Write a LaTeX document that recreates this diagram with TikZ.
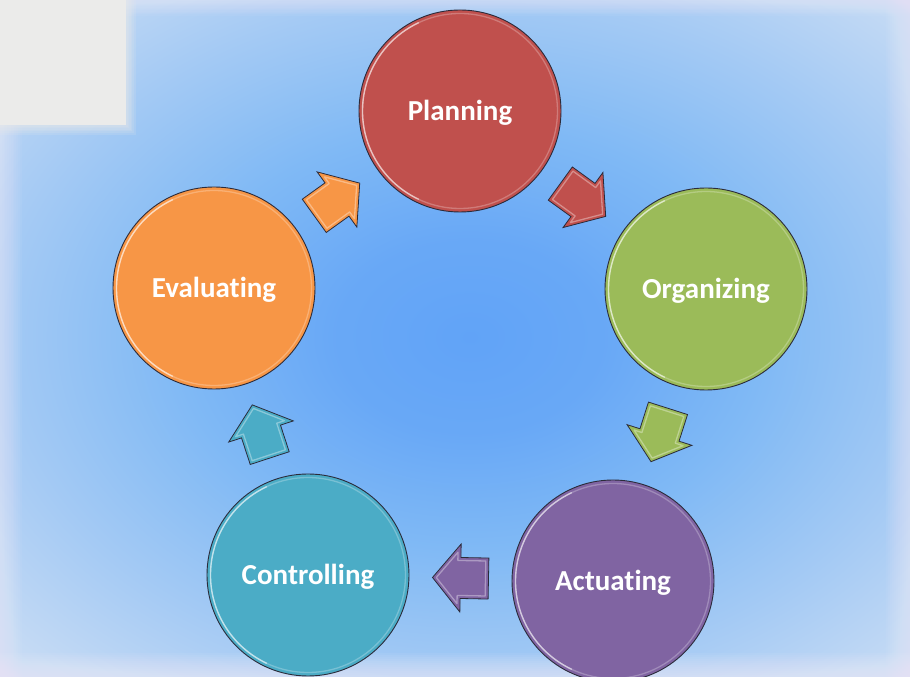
\documentclass[tikz,border=0pt]{standalone}
\usepackage{fontspec}
\setmainfont{Carlito}[Ligatures=NoCommon]
\usetikzlibrary{calc}

\definecolor{planred}{HTML}{C0504D}
\definecolor{orggreen}{HTML}{9BBB59}
\definecolor{actpurple}{HTML}{8064A2}
\definecolor{ctrlteal}{HTML}{4BACC6}
\definecolor{evalorange}{HTML}{F79646}
\definecolor{cornergray}{HTML}{EBEBEA}
\definecolor{edgedark}{HTML}{2B2B3A}
\definecolor{edgelight}{HTML}{F0EEF8}

\pgfdeclareradialshading{bgshade}{\pgfpoint{0bp}{0bp}}{%
 rgb(0bp)=(0.38,0.64,0.97);
 rgb(7bp)=(0.41,0.66,0.965);
 rgb(15bp)=(0.50,0.725,0.96);
 rgb(24bp)=(0.64,0.79,0.955);
 rgb(32bp)=(0.77,0.855,0.955);
 rgb(40bp)=(0.86,0.89,0.96);
 rgb(72bp)=(0.92,0.91,0.965)}

\tikzset{
  stage/.style={circle, minimum size=202pt, inner sep=0pt, fill=#1,
    draw=edgedark, line width=0.9pt, text=white,
    font=\fontsize{29}{34}\selectfont\bfseries, text height=18.7pt, text depth=0pt},
  pics/blockarrow/.style={code={
    \fill[#1] (-28,-20.5) -- (0,-20.5) -- (0,-34) -- (28,0) -- (0,34) -- (0,20.5) -- (-28,20.5) -- cycle;
    \draw[white, opacity=0.35, line width=1.3pt, line join=round]
      (-25,-17.5) -- (3,-17.5) -- (3,-25.7) -- (24.2,0) -- (3,25.7) -- (3,17.5) -- (-25,17.5) -- cycle;
    \draw[edgedark, line width=0.8pt, line join=miter]
      (-28,-20.5) -- (0,-20.5) -- (0,-34) -- (28,0) -- (0,34) -- (0,20.5) -- (-28,20.5) -- cycle;
  }}
}

\begin{document}
\begin{tikzpicture}[x=1pt,y=1pt]
\useasboundingbox (0,0) rectangle (910,677);
\begin{scope}
  \clip (0,0) rectangle (910,677);
  \shade[shading=bgshade] (-15,-10) rectangle (955,690);
  \foreach \i in {1,...,12}{
    \fill[edgelight, opacity=0.07] (0,0) rectangle (910,2*\i);
    \fill[edgelight, opacity=0.06] (0,677-1.3*\i) rectangle (910,677);
    \fill[edgelight, opacity=0.06] (910-2*\i,0) rectangle (910,677);
    \fill[edgelight, opacity=0.06] (0,0) rectangle (1.8*\i,677);
  }
  \fill[cornergray] (0,552) rectangle (126,677);
  \foreach \i in {1,...,6}
    \fill[cornergray, opacity=0.15] (0,552-1.6*\i) rectangle (126+1.6*\i,677);
\end{scope}

\node[stage=planred]    (plan) at (460,566) {Planning};
\node[stage=orggreen]   (org)  at (706,388) {Organizing};
\node[stage=actpurple]  (act)  at (613,96)  {Actuating};
\node[stage=ctrlteal]   (ctrl) at (308,102) {Controlling};
\node[stage=evalorange] (eval) at (214,389) {Evaluating};

\foreach \n in {plan,org,act,ctrl,eval}{
  \draw[white, opacity=0.25, line width=1.3pt] (\n.center) circle (97.5);
  \draw[white, opacity=0.55, line width=1.4pt] ($(\n.center)+(115:97.5)$) arc (115:245:97.5);
}

\foreach \a/\b/\c in {plan/org/planred, org/act/orggreen, act/ctrl/actpurple, ctrl/eval/ctrlteal, eval/plan/evalorange}
  \path let \p1=($(\b.center)-(\a.center)$), \n1={atan2(\y1,\x1)} in
    ($(\a.center)!0.5!(\b.center)$) pic[rotate=\n1] {blockarrow=\c};
\end{tikzpicture}
\end{document}
